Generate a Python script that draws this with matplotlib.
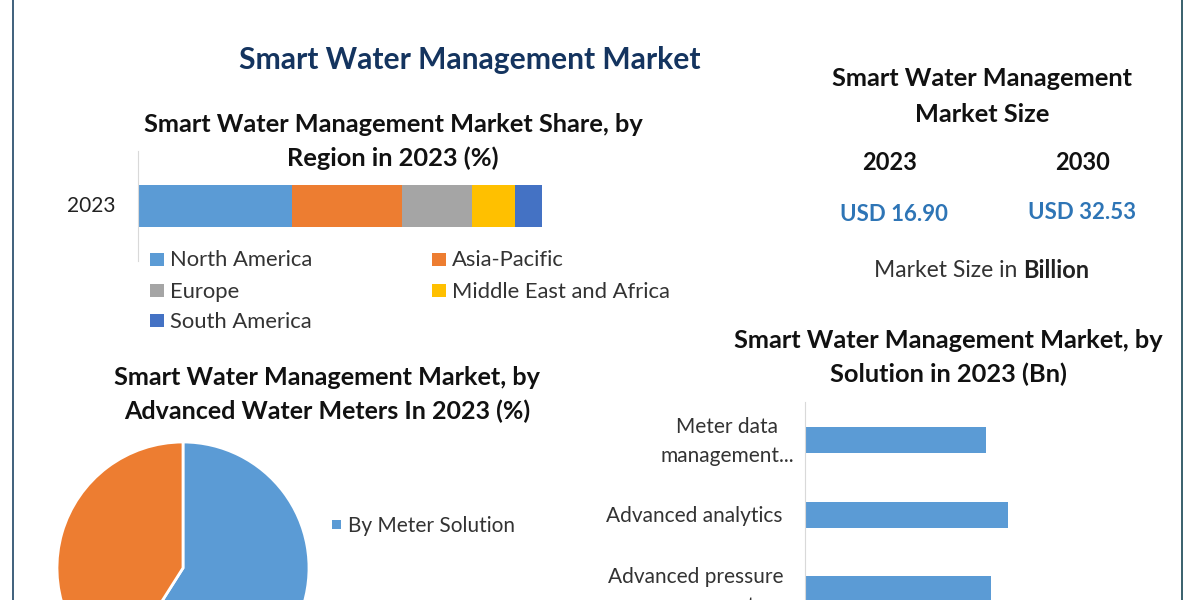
import matplotlib
matplotlib.use('Agg')
import matplotlib.pyplot as plt
from matplotlib.patches import Rectangle

plt.rcParams['font.family'] = ['Lato', 'DejaVu Sans']

BLUE = '#5B9BD5'
ORANGE = '#ED7D31'
GRAY = '#A5A5A5'
YELLOW = '#FFC000'
DARKBLUE = '#4472C4'

# region share
regions = ['North America', 'Asia-Pacific', 'Europe', 'Middle East and Africa', 'South America']
region_share = [38.2, 27.2, 17.2, 10.8, 6.6]
region_colors = [BLUE, ORANGE, GRAY, YELLOW, DARKBLUE]

# pie, by advanced water meters
# second label is a guess: the image crops it to an unreadable sliver
meter_labels = ['By Meter Solution', 'By Communication Solution']
meter_share = [59, 41]

# solution bars, in Bn (the chart has no axis, so scale is estimated)
# second line of the third label is a guess too, only its top shows
solutions = ['Meter data\nmanagement...', 'Advanced analytics', 'Advanced pressure\nmanagement']
solution_values = [3.15, 3.53, 3.24]

fig = plt.figure(figsize=(12, 6), dpi=100)

def px_axes(x0, y0, x1, y1):
    return fig.add_axes([x0 / 1200, 1 - y1 / 600, (x1 - x0) / 1200, (y1 - y0) / 600])

def txt(x, y, s, size=15, weight='normal', color='#333333', ha='center'):
    # Lato sits a bit high when centred, hence the small shift
    fig.text(x / 1200, 1 - (y + 1.5) / 600, s, fontsize=size, fontweight=weight, color=color,
             ha=ha, va='center', linespacing=1.6)

def box(x, y, w, h, col):
    fig.add_artist(Rectangle((x / 1200, 1 - (y + h) / 600), w / 1200, h / 600,
                             transform=fig.transFigure, color=col, lw=0))

# frame lines at both sides
box(11.5, 0, 2, 600, '#44647F')
box(1181, 0, 2, 600, '#3E6470')

TITLE = 18.3
txt(470, 58, 'Smart Water Management Market', 21.6, 'bold', '#14345F')
txt(393, 123, 'Smart Water Management Market Share, by', TITLE, 'bold', '#111111')
txt(393, 157, 'Region in 2023 (%)', TITLE, 'bold', '#111111')
txt(982, 77, 'Smart Water Management', TITLE, 'bold', '#111111')
txt(982, 113, 'Market Size', TITLE, 'bold', '#111111')
txt(890, 161, '2023', 17, 'bold', '#111111')
txt(1083, 161, '2030', 17, 'bold', '#111111')
txt(894, 213, 'USD 16.90', 16, 'bold', '#2E75B6')
txt(1082, 211, 'USD 32.53', 16, 'bold', '#2E75B6')
txt(874, 269, 'Market Size in', 16.5, ha='left')
txt(1023, 269, 'Billion', 17, 'bold', '#222222', ha='left')
txt(327, 376, 'Smart Water Management Market, by', 18.2, 'bold', '#111111')
txt(327, 410, 'Advanced Water Meters In 2023 (%)', 18, 'bold', '#111111')
txt(948, 339, 'Smart Water Management Market, by', TITLE, 'bold', '#111111')
txt(948, 373, 'Solution in 2023 (Bn)', TITLE, 'bold', '#111111')

# stacked bar
ax = px_axes(138, 151, 542, 261)
left = 0
for name, val, col in zip(regions, region_share, region_colors):
    ax.barh(0, val, left=left, height=0.385, color=col, label=name)
    left += val
ax.set_xlim(0, sum(region_share))
ax.set_ylim(-0.5, 0.5)
ax.set_yticks([])
ax.set_xticks([])
for s in ['top', 'right', 'bottom']:
    ax.spines[s].set_visible(False)
ax.spines['left'].set_color('#D9D9D9')
ax.patch.set_alpha(0)
txt(91, 204, '2023', 15, color='#222222')

# legend of stacked bar, placed by hand in two columns
leg_pos = [(150, 259), (432, 259), (150, 290), (432, 290), (150, 320)]
for (x, y), name, col in zip(leg_pos, regions, region_colors):
    box(x, y - 6, 14, 13, col)
    txt(x + 20, y, name, 15.8, ha='left')

# pie, cut by bottom edge of the image
ax2 = px_axes(57, 442, 309, 694)
ax2.pie(meter_share, colors=[BLUE, ORANGE], startangle=90, counterclock=False, radius=1,
        wedgeprops={'edgecolor': 'white', 'linewidth': 2})
ax2.set_xlim(-1, 1)
ax2.set_ylim(-1, 1)

box(332, 520, 9, 9, BLUE)
txt(348, 525, meter_labels[0], 15, ha='left')
box(332, 606, 9, 9, ORANGE)
txt(348, 611, meter_labels[1], 13, ha='left')

# solution bars
ax3 = px_axes(805, 402, 1100, 660)
ypos = [0, 1, 2]
ax3.barh(ypos, solution_values, height=0.35, color=BLUE)
ax3.set_ylim(2.95, -0.51)
ax3.set_xlim(0, 5.13)
ax3.set_xticks([])
ax3.set_yticks([])
for s in ['top', 'right', 'bottom']:
    ax3.spines[s].set_visible(False)
ax3.spines['left'].set_color('#D9D9D9')

# category labels sit unevenly in the reference, so they are placed one by one
txt(727, 440, solutions[0], 15)
txt(694, 514, solutions[1], 15)
txt(696, 590, solutions[2], 15)

fig.savefig('out.png', dpi=100)
